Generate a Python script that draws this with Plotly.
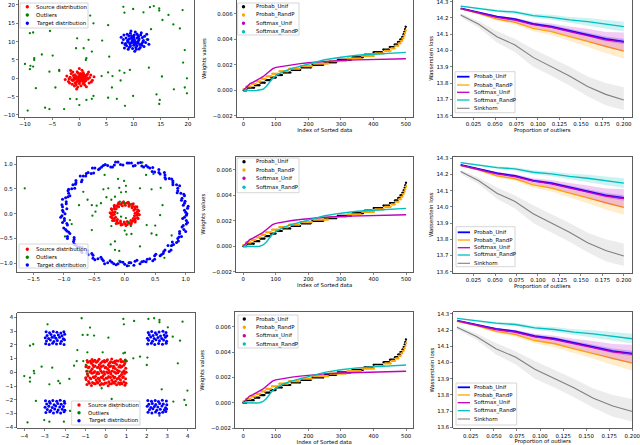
import plotly.graph_objects as go

W, H = 640, 445
FONT = "DejaVu Sans"
FS = 5.4

# ================= LEFT COLUMN: point clouds =================
gauss_source = [(-0.3,0.2),(0.5,-0.4),(1.1,0.8),(-1.2,-0.6),(0.2,1.3),(-0.8,1.0),(1.6,-0.2),(-1.7,0.3),(0.0,-1.4),(0.9,-1.1),
    (-0.5,-1.0),(0.4,0.6),(-0.1,-0.3),(1.3,0.3),(-1.0,0.1),(0.7,1.6),(-0.4,1.8),(2.1,0.9),(-2.0,-0.9),(0.3,-2.0),
    (-1.3,-1.6),(1.8,-1.3),(-0.7,0.6),(0.1,0.9),(0.8,0.1),(-0.2,-0.7),(1.5,1.2),(-1.5,1.3),(0.6,-0.8),(-0.9,-0.3),
    (0.0,0.4),(-0.6,-1.7),(1.0,-1.8),(2.4,-0.5),(-2.3,0.6),(0.5,2.2),(-0.3,-2.4),(1.9,0.2),(-1.9,-0.1),(0.2,-0.1),
    (-0.4,0.0),(0.6,0.4),(0.3,1.1),(-1.1,0.8),(1.2,-0.6),(-0.8,-1.2),(0.9,0.7),(-0.2,1.4),(0.7,-1.4),(-1.4,-0.4),
    (1.4,0.9),(0.1,-0.9),(-0.6,0.3),(0.4,-0.2),(-0.1,0.6),(1.1,-0.2),(-1.2,1.7),(1.7,1.7),(-1.8,-1.3),(2.2,-1.0),
    (0.0,2.7),(-0.5,-2.9),(2.7,0.4),(-2.6,-0.3),(0.8,1.2),(-0.9,-2.1),(1.3,-2.3),(-1.6,2.1),(0.3,0.0),(-0.3,-0.5),
    (0.5,0.9),(-0.7,-0.1),(0.9,-0.4),(-0.2,0.3),(0.1,-0.5)]
gauss_target = [(10.2,10.1),(9.5,9.6),(11.0,10.7),(8.9,10.4),(10.6,8.9),(9.7,11.2),(11.5,9.5),(8.4,9.2),(10.1,11.8),(9.2,8.5),
    (10.9,11.4),(8.6,11.0),(11.8,10.3),(10.4,9.3),(9.9,10.5),(9.0,9.9),(10.7,10.0),(11.3,11.9),(8.1,10.6),(12.2,9.8),
    (9.4,12.3),(10.5,7.9),(11.9,8.7),(8.3,8.3),(10.0,9.0),(9.6,10.9),(10.8,9.7),(9.1,11.6),(11.2,8.4),(10.3,12.6),
    (7.9,9.7),(12.6,10.6),(9.8,8.1),(11.6,11.1),(8.8,12.0),(10.1,10.6),(9.3,9.4),(10.6,11.0),(9.9,9.8),(11.1,9.2),
    (8.7,8.9),(10.4,8.4),(12.0,11.5),(9.0,7.9),(11.4,12.4),(7.7,11.2),(12.8,9.3),(10.2,7.4),(9.5,12.9),(10.9,10.3),
    (9.7,10.2),(10.3,9.6),(8.5,9.5),(11.7,10.0),(9.6,11.6),(10.6,12.1),(9.2,10.8),(11.0,8.0),(8.2,11.8),(12.4,12.0),
    (10.0,11.3),(10.8,11.7),(9.4,8.8),(11.5,9.0),(8.9,10.0)]
gauss_outliers = [(8.1,19.5),(9.9,18.9),(11.8,18.0),(13.0,19.4),(13.7,19.7),(14.7,19.1),(14.7,18.5),(19.0,18.6),(16.4,17.3),(8.3,17.9),
    (2.0,17.1),(15.3,15.9),(5.3,14.5),(17.3,14.7),(18.5,13.6),(13.2,13.4),(-9.1,12.3),(-8.5,12.5),(-5.4,12.9),(2.6,15.0),
    (-0.4,10.9),(1.7,10.5),(4.2,10.3),(12.4,10.6),(19.4,7.7),(-6.9,6.5),(-8.3,5.5),(-8.3,5.0),(-4.9,6.2),(-0.6,8.2),
    (0.8,8.2),(2.3,7.3),(1.3,5.5),(1.2,5.0),(5.5,5.9),(-10.0,3.9),(-9.0,3.4),(-9.1,2.5),(-8.5,3.2),(-3.7,2.3),
    (-3.7,2.0),(-5.5,1.8),(9.3,2.3),(7.4,2.1),(5.3,1.6),(8.3,1.5),(19.1,4.3),(12.8,2.9),(15.2,0.5),(19.8,0.0),
    (4.1,0.6),(6.1,0.6),(7.6,-0.6),(-8.0,-2.7),(-4.4,-2.5),(6.0,-2.5),(17.4,-3.0),(19.4,-2.5),(19.8,-4.1),(14.2,-4.4),
    (9.9,-4.8),(2.6,-4.8),(-1.7,-5.6),(-0.5,-5.7),(1.3,-5.9),(2.3,-5.6),(5.3,-5.3),(6.9,-5.6),(14.8,-5.9),(14.7,-7.0),
    (8.4,-7.5),(0.0,-7.3),(-6.3,-8.0),(-5.5,-8.4),(-2.8,-8.4),(-9.5,-8.8)]

circle_source = [(0.22,0.00),(0.20,0.03),(0.21,0.08),(0.17,0.10),(0.17,0.14),(0.13,0.15),(0.11,0.19),(0.07,0.19),(0.04,0.22),(0.00,0.20),
    (-0.04,0.22),(-0.07,0.19),(-0.11,0.19),(-0.13,0.15),(-0.17,0.14),(-0.17,0.10),(-0.21,0.08),(-0.20,0.03),(-0.22,0.00),(-0.20,-0.03),
    (-0.21,-0.08),(-0.17,-0.10),(-0.17,-0.14),(-0.13,-0.15),(-0.11,-0.19),(-0.07,-0.19),(-0.04,-0.22),(0.00,-0.20),(0.04,-0.22),(0.07,-0.19),
    (0.11,-0.19),(0.13,-0.15),(0.17,-0.14),(0.17,-0.10),(0.21,-0.08),(0.20,-0.03),
    (0.17,0.01),(0.23,0.06),(0.15,0.07),(0.20,0.14),(0.12,0.12),(0.14,0.20),(0.07,0.15),(0.06,0.23),(0.01,0.17),(-0.02,0.24),
    (-0.04,0.16),(-0.10,0.22),(-0.10,0.14),(-0.17,0.17),(-0.14,0.10),(-0.22,0.10),(-0.16,0.04),(-0.24,0.02),(-0.17,-0.01),(-0.23,-0.06),
    (-0.15,-0.07),(-0.20,-0.14),(-0.12,-0.12),(-0.14,-0.20),(-0.07,-0.15),(-0.06,-0.23),(-0.01,-0.17),(0.02,-0.24),(0.04,-0.16),(0.10,-0.22),
    (0.10,-0.14),(0.17,-0.17),(0.14,-0.10),(0.22,-0.10),(0.16,-0.04),(0.24,-0.02)]
circle_target = [(1.02,0.00),(0.98,0.07),(1.04,0.15),(0.98,0.21),(0.93,0.27),(0.98,0.36),(0.92,0.41),(0.87,0.46),(0.90,0.56),(0.79,0.58),
    (0.79,0.66),(0.73,0.71),(0.66,0.73),(0.65,0.83),(0.56,0.83),(0.49,0.84),(0.46,0.93),(0.38,0.94),(0.31,0.94),(0.26,1.03),
    (0.17,0.97),(0.11,1.02),(0.04,1.02),
    (-0.03,0.98),(-0.11,1.04),(-0.17,0.98),(-0.23,0.94),(-0.32,0.99),(-0.38,0.94),(-0.43,0.89),(-0.53,0.92),(-0.55,0.81),(-0.63,0.81),
    (-0.68,0.76),(-0.70,0.68),(-0.80,0.67),(-0.81,0.59),(-0.82,0.51),(-0.92,0.49),(-0.92,0.41),(-0.93,0.34),(-1.02,0.29),(-0.96,0.20),
    (-1.02,0.14),(-1.02,0.07),(-0.98,0.00),
    (-1.05,-0.07),(-0.99,-0.14),(-0.95,-0.20),(-1.00,-0.29),(-0.95,-0.35),(-0.90,-0.40),(-0.94,-0.50),(-0.83,-0.52),(-0.83,-0.61),
    (-0.78,-0.66),(-0.70,-0.68),(-0.70,-0.78),(-0.62,-0.79),(-0.54,-0.80),(-0.52,-0.90),(-0.44,-0.91),(-0.37,-0.92),(-0.33,-1.01),
    (-0.24,-0.95),(-0.18,-1.01),(-0.11,-1.01),(-0.03,-0.98),
    (0.04,-1.05),(0.10,-0.99),(0.17,-0.96),(0.25,-1.01),(0.31,-0.96),(0.37,-0.92),(0.46,-0.95),(0.49,-0.85),(0.58,-0.85),
    (0.63,-0.80),(0.66,-0.73),(0.76,-0.73),(0.77,-0.64),(0.78,-0.57),(0.88,-0.55),(0.89,-0.47),(0.90,-0.40),(1.00,-0.36),
    (0.94,-0.27),(1.01,-0.21),(1.01,-0.14),(0.98,-0.07),
    (1.00,0.03),(1.03,0.11),(0.96,0.17),(0.99,0.25),(0.94,0.31),(0.97,0.39),(0.86,0.42),(0.87,0.51),(0.85,0.58),(0.79,0.62),
    (0.77,0.70),(0.67,0.70),(0.66,0.78),(0.58,0.80),(0.56,0.89),(0.45,0.85),(0.41,0.92),(0.35,0.97),(0.28,0.96),(0.22,1.02),
    (0.14,0.96),(0.07,1.02),
    (-0.07,0.99),(-0.15,1.04),(-0.20,0.94),(-0.28,0.97),(-0.35,0.97),(-0.41,0.91),(-0.49,0.92),(-0.51,0.82),(-0.60,0.83),(-0.64,0.76),
    (-0.73,0.76),(-0.71,0.64),(-0.80,0.62),(-0.85,0.58),(-0.87,0.50),(-0.93,0.46),(-0.90,0.36),(-0.97,0.32),(-0.96,0.24),(-1.03,0.18),
    (-0.95,0.10),(-1.01,0.04),
    (-1.03,-0.04),(-0.99,-0.10),(-1.02,-0.18),(-0.94,-0.23),(-0.97,-0.32),(-0.92,-0.37),(-0.94,-0.46),(-0.83,-0.48),(-0.84,-0.56),
    (-0.81,-0.63),(-0.74,-0.67),(-0.72,-0.75),(-0.62,-0.74),(-0.60,-0.83),(-0.52,-0.84),(-0.49,-0.93),(-0.39,-0.88),(-0.35,-0.95),
    (-0.28,-0.99),(-0.21,-0.98),(-0.14,-1.03),(-0.07,-0.97),
    (0.00,-1.02),(0.07,-0.99),(0.15,-1.04),(0.20,-0.94),(0.28,-0.97),(0.35,-0.97),(0.41,-0.91),(0.49,-0.92),(0.51,-0.82),(0.60,-0.83),
    (0.64,-0.76),(0.73,-0.76),(0.71,-0.64),(0.80,-0.62),(0.85,-0.58),(0.87,-0.50),(0.93,-0.46),(0.90,-0.36),(0.97,-0.32),(0.96,-0.24),
    (1.03,-0.18),(0.95,-0.10),(1.01,-0.03)]
circle_outliers = [(-1.64,0.51),(0.29,1.03),(0.35,0.78),(0.47,0.80),(-0.33,0.78),(-0.11,0.70),(-0.01,0.66),(0.02,0.56),(-0.68,0.44),(-0.35,0.49),
    (-0.27,0.51),(-0.09,0.52),(0.02,0.44),(0.25,0.51),(0.44,0.49),(0.59,0.52),(-0.30,0.33),(-0.16,0.34),(-0.61,0.28),(-0.75,0.17),
    (-0.54,0.17),(-0.46,0.16),(-0.39,0.21),(-0.08,0.24),(0.00,0.21),(0.08,0.17),(0.62,0.17),(-0.48,0.04),(-0.53,-0.04),(-0.90,-0.13),
    (-0.87,-0.21),(-0.12,0.01),(-0.06,-0.06),(0.02,-0.09),(0.06,-0.17),(-0.22,-0.25),(0.10,-0.25),(0.36,-0.23),(0.50,-0.24),(0.58,-0.03),
    (-0.54,-0.33),(0.00,-0.34),(0.11,-0.41),(0.03,-0.42),(0.44,-0.40),(0.52,-0.43),(0.77,-0.44),(-0.98,-0.46),(-0.16,-0.56),(-0.23,-0.62),
    (-0.16,-0.73),(-0.09,-0.75),(0.25,-0.66),(0.76,-0.65),(0.65,-0.89),(-0.09,-0.95),(0.07,-1.05),(0.08,-0.98),(-0.06,0.43),(-0.22,0.28)]

square_source_x = [-0.93,-0.71,-0.52,-0.28,-0.12,0.11,0.27,0.52,0.68,0.93,
    -0.85,-0.66,-0.44,-0.31,-0.05,0.14,0.35,0.47,0.74,0.88,
    -0.97,-0.74,-0.48,-0.33,-0.09,0.06,0.29,0.55,0.71,0.96,
    -0.88,-0.62,-0.51,-0.24,-0.14,0.13,0.33,0.44,0.67,0.85,
    -0.91,-0.69,-0.45,-0.35,-0.07,0.09,0.24,0.49,0.76,0.91,
    -0.94,-0.73,-0.55,-0.26,-0.11,0.15,0.31,0.56,0.65,0.89,
    -0.86,-0.67,-0.42,-0.29,-0.04,0.08,0.36,0.46,0.73,0.97,
    -0.96,-0.64,-0.53,-0.32,-0.13,0.12,0.26,0.53,0.69,0.87,
    -0.89,-0.72,-0.47,-0.25,-0.06,0.17,0.34,0.45,0.75,0.92,
    -0.92,-0.68,-0.54,-0.34,-0.08,0.07,0.28,0.51,0.72,0.95,
    -0.81,-0.58,-0.39,-0.21,0.02,0.19,0.41,0.62,0.79,0.98,
    -0.78,-0.57,-0.38,-0.18,0.01,0.22,0.39,0.61,0.82,-0.99,
    -0.79,-0.61,-0.41,-0.19,0.03,0.21,0.42,0.58,0.81,0.99,
    -0.82,-0.59,-0.37,-0.22,-0.01,0.18,0.38,0.63,0.78,-0.98,
    -0.77,-0.62,-0.40,-0.17,0.04,0.23,0.43,0.60,0.83,0.97]
square_source_y = [-0.88,-0.95,-0.84,-0.92,-0.86,-0.97,-0.83,-0.91,-0.87,-0.94,
    -0.66,-0.74,-0.71,-0.63,-0.77,-0.68,-0.72,-0.65,-0.75,-0.69,
    -0.52,-0.46,-0.55,-0.48,-0.53,-0.44,-0.57,-0.49,-0.54,-0.47,
    -0.27,-0.34,-0.29,-0.36,-0.25,-0.31,-0.26,-0.35,-0.28,-0.33,
    -0.13,-0.06,-0.11,-0.08,-0.14,-0.05,-0.12,-0.07,-0.15,-0.09,
    0.08,0.14,0.06,0.12,0.05,0.13,0.09,0.15,0.07,0.11,
    0.33,0.26,0.35,0.28,0.34,0.25,0.32,0.27,0.36,0.29,
    0.47,0.54,0.45,0.55,0.48,0.53,0.46,0.56,0.49,0.52,
    0.73,0.66,0.74,0.67,0.75,0.65,0.72,0.68,0.76,0.64,
    0.86,0.94,0.88,0.95,0.85,0.92,0.97,0.84,0.93,0.89,
    -0.79,-0.82,-0.77,-0.81,-0.78,-0.84,-0.80,-0.76,-0.83,-0.79,
    -0.41,-0.38,-0.43,-0.39,-0.42,-0.37,-0.41,-0.44,-0.38,-0.40,
    0.02,-0.03,0.01,-0.02,0.03,-0.01,0.02,-0.03,0.00,0.01,
    0.38,0.42,0.39,0.43,0.37,0.41,0.44,0.38,0.42,0.40,
    0.81,0.78,0.82,0.79,0.83,0.77,0.80,0.82,0.78,0.81]
square_target_x = [-2.95,-2.78,-2.61,-2.42,-2.23,-2.05,-2.91,-2.72,-2.55,-2.38,-2.18,-2.03,-2.97,-2.81,-2.64,-2.45,-2.27,-2.09,
    -2.88,-2.69,-2.52,-2.33,-2.15,-2.02,-2.93,-2.76,-2.58,-2.40,-2.21,-2.06,
    2.04,2.22,2.39,2.58,2.77,2.95,2.09,2.28,2.45,2.62,2.82,2.97,2.03,2.19,2.36,2.55,2.73,2.91,
    2.12,2.31,2.48,2.67,2.85,2.98,2.07,2.24,2.42,2.60,2.79,2.94,
    -2.96,-2.77,-2.60,-2.41,-2.24,-2.04,-2.90,-2.73,-2.54,-2.36,-2.19,-2.02,-2.98,-2.80,-2.63,-2.46,-2.26,-2.08,
    -2.87,-2.70,-2.51,-2.34,-2.14,-2.01,-2.94,-2.75,-2.57,-2.39,-2.22,-2.05,
    2.05,2.23,2.41,2.57,2.76,2.96,2.10,2.27,2.44,2.63,2.81,2.98,2.02,2.20,2.37,2.54,2.74,2.92,
    2.13,2.30,2.49,2.66,2.86,2.97,2.06,2.25,2.43,2.61,2.78,2.93]
square_target_y = [2.08,2.03,2.12,2.05,2.10,2.02,2.28,2.35,2.24,2.31,2.26,2.37,2.52,2.46,2.55,2.48,2.54,2.44,
    2.68,2.74,2.65,2.72,2.66,2.76,2.94,2.88,2.97,2.91,2.86,2.95,
    2.05,2.11,2.03,2.09,2.04,2.12,2.33,2.26,2.36,2.29,2.34,2.25,2.47,2.56,2.45,2.53,2.46,2.55,
    2.73,2.67,2.75,2.64,2.71,2.66,2.89,2.96,2.87,2.93,2.98,2.90,
    -2.06,-2.12,-2.04,-2.10,-2.03,-2.11,-2.30,-2.25,-2.35,-2.27,-2.33,-2.24,-2.54,-2.47,-2.56,-2.45,-2.52,-2.48,
    -2.71,-2.77,-2.66,-2.74,-2.68,-2.75,-2.92,-2.87,-2.96,-2.89,-2.95,-2.86,
    -2.04,-2.10,-2.05,-2.12,-2.03,-2.09,-2.32,-2.27,-2.34,-2.26,-2.31,-2.36,-2.46,-2.55,-2.48,-2.53,-2.45,-2.57,
    -2.72,-2.65,-2.76,-2.68,-2.73,-2.67,-2.90,-2.95,-2.88,-2.97,-2.91,-2.85]
square_outliers = [(-1.19,3.93),(0.85,3.88),(0.88,3.49),(1.38,3.73),(2.08,3.88),(2.36,3.93),(2.62,3.81),(2.62,3.64),(3.75,3.68),(-2.86,3.49),
    (-0.78,3.25),(-1.14,2.72),(-0.90,2.72),(-0.58,2.67),(0.12,2.52),(3.03,3.27),(3.27,2.59),(3.63,2.30),(-3.72,1.94),(-3.56,2.04),
    (-1.40,1.62),(-0.91,1.45),(-0.16,1.45),(0.85,1.38),(0.93,1.43),(1.67,1.14),(2.03,1.07),(1.34,1.02),(-1.43,0.82),(-1.56,0.48),
    (-1.11,0.82),(-0.98,0.53),(2.00,0.53),(3.52,0.65),(-3.15,0.41),(-3.53,0.10),(-3.51,-0.07),(-2.63,0.34),(-4.00,-0.27),(-3.72,-0.39),
    (-3.72,-0.68),(-2.33,-0.63),(-2.25,-0.80),(-2.77,-0.87),(-1.79,-0.48),(-0.21,-1.16),(2.73,-1.24),(3.99,-1.33),(-3.43,-2.08),(3.30,-2.13),
    (3.84,-2.01),(3.92,-2.38),(0.28,-1.94),(-1.76,-2.81),(0.36,-2.38),(2.62,-3.15),(-3.02,-3.47),(-2.77,-3.59),(-2.06,-3.59),(-3.84,-3.64),
    (-2.55,2.52),(0.93,0.90),(1.02,0.82),(-0.91,-0.12),(-0.91,0.10),(0.53,-2.62)]

cloud_names = ["Source distribution", "Outliers", "Target distribution"]
cloud_colors = ["#ff0000", "#008000", "#0000ff"]

# ================= MIDDLE COLUMN: sorted weights =================
sorted_index = [0, 10, 20, 30, 40, 50, 60, 70, 80, 90, 100, 125, 150, 175, 200, 250, 300, 350, 400, 450, 500]
softmax_unif_w = [0.0, 0.0003, 0.00052, 0.00064, 0.00078, 0.0009, 0.00107, 0.00128, 0.0015, 0.0017, 0.0018,
                  0.00192, 0.00202, 0.0021, 0.00217, 0.00228, 0.00235, 0.00239, 0.00242, 0.00245, 0.00248]
softmax_randp_w = [0.0, -0.00002, -0.00003, -0.00003, -0.00002, 0.0, 0.00008, 0.0003, 0.00065, 0.00095, 0.00115,
                   0.0015, 0.00172, 0.0019, 0.00208, 0.0024, 0.0026, 0.00275, 0.00283, 0.0029, 0.00298]
probab_unif_level = [0.0, 0.0002, 0.0004, 0.0006, 0.0008, 0.0010, 0.0012, 0.0014, 0.0016, 0.0018, 0.0020, 0.0022, 0.0024,
                     0.0026, 0.0028, 0.0030, 0.0032, 0.0034, 0.0036, 0.0038, 0.0040, 0.0042, 0.0044, 0.0046, 0.0048, 0.0050]
probab_unif_from = [0, 12, 35, 52, 68, 84, 102, 122, 148, 178, 212, 250, 290, 335, 372, 400, 430, 450, 465, 475, 482, 488, 492, 495, 497, 499]
probab_unif_to = [10, 33, 50, 66, 82, 100, 119, 145, 175, 208, 246, 286, 331, 368, 397, 427, 448, 463, 474, 481, 487, 491, 494, 496, 498, 500]
probab_randp_level = [0.0001, 0.0003, 0.0005, 0.0007, 0.0009, 0.0011, 0.0013, 0.0015, 0.0017, 0.0019, 0.0021, 0.0023,
                      0.0025, 0.0027, 0.0029, 0.0031, 0.0033, 0.0035, 0.0037, 0.0039, 0.0041, 0.0043, 0.0045, 0.0047]
probab_randp_from = [0, 8, 25, 40, 55, 70, 88, 110, 140, 175, 215, 265, 320, 365, 405, 435, 455, 468, 478, 485, 490, 494, 497, 499]
probab_randp_to = [6, 23, 38, 53, 68, 86, 107, 137, 172, 211, 261, 316, 361, 402, 432, 453, 466, 477, 484, 489, 493, 496, 498, 500]

weight_names = ["Probab_Unif", "Probab_RandP", "Softmax_Unif", "Softmax_RandP"]
weight_colors = ["#000000", "#ffa500", "#bf00bf", "#00bfbf"]

# ================= RIGHT COLUMN: Wasserstein loss =================
outlier_prop = [0.01, 0.0311, 0.0522, 0.0733, 0.0944, 0.1156, 0.1367, 0.1578, 0.1789, 0.2]
probab_unif_loss = [14.259, 14.235, 14.208, 14.192, 14.163, 14.147, 14.122, 14.100, 14.071, 14.055]
probab_randp_loss = [14.255, 14.228, 14.192, 14.173, 14.136, 14.116, 14.085, 14.055, 14.024, 13.997]
softmax_unif_loss = [14.257, 14.232, 14.204, 14.187, 14.159, 14.142, 14.117, 14.095, 14.066, 14.052]
softmax_randp_loss = [14.273, 14.259, 14.243, 14.235, 14.214, 14.204, 14.188, 14.177, 14.161, 14.147]
sinkhorn_loss = [14.218, 14.161, 14.085, 14.034, 13.958, 13.901, 13.844, 13.779, 13.731, 13.697]
probab_unif_sd = [0.003, 0.004, 0.005, 0.006, 0.008, 0.009, 0.011, 0.013, 0.015, 0.017]
probab_randp_sd = [0.004, 0.007, 0.010, 0.013, 0.017, 0.021, 0.026, 0.032, 0.040, 0.046]
softmax_unif_sd = [0.004, 0.007, 0.010, 0.014, 0.018, 0.024, 0.030, 0.038, 0.048, 0.058]
softmax_randp_sd = [0.004, 0.006, 0.008, 0.010, 0.012, 0.015, 0.018, 0.022, 0.026, 0.030]
sinkhorn_upper = [14.228, 14.180, 14.120, 14.070, 14.010, 13.955, 13.900, 13.840, 13.800, 13.775]
sinkhorn_lower = [14.205, 14.140, 14.050, 13.990, 13.900, 13.845, 13.785, 13.720, 13.665, 13.635]

loss_names = ["Probab_Unif", "Probab_RandP", "Softmax_Unif", "Softmax_RandP", "Sinkhorn"]
loss_colors = ["#0000ff", "#ffa500", "#bf00bf", "#00bfbf", "#808080"]
loss_widths = [1.8, 1.3, 1.3, 1.3, 1.1]

# ================= helpers =================
def px_x(p):
    return p / W

def px_y(p):
    return 1 - p / H

def split(pairs):
    return [p[0] for p in pairs], [p[1] for p in pairs]

def rgba(hexc, a):
    h = hexc.lstrip("#")
    return "rgba(%d,%d,%d,%.3f)" % (int(h[0:2], 16), int(h[2:4], 16), int(h[4:6], 16), a)

def steps(levels, starts, ends):
    xs, ys = [], []
    for l, s, e in zip(levels, starts, ends):
        xs += [s, e, None]
        ys += [l, l, None]
    return xs, ys

fig = go.Figure()

def ax(k):
    return ("x" if k == 1 else "x%d" % k), ("y" if k == 1 else "y%d" % k)

# ---- cloud panels ----
def cloud_panel(k, source, outliers, target):
    xa, ya = ax(k)
    sets = [source, outliers, target]
    sizes = [3.0, 2.3, 3.0]
    for (xs, ys), name, col, sz in zip(sets, cloud_names, cloud_colors, sizes):
        fig.add_trace(go.Scatter(x=xs, y=ys, mode="markers", name=name, xaxis=xa, yaxis=ya,
                                 marker=dict(color=col, size=sz, line=dict(width=0)), showlegend=False))

sq_src = (square_source_x, square_source_y)
sq_tgt = (square_target_x, square_target_y)
cloud_panel(1, split(gauss_source), split(gauss_outliers), split(gauss_target))
cloud_panel(4, split(circle_source), split(circle_outliers), split(circle_target))
cloud_panel(7, sq_src, split(square_outliers), sq_tgt)

# ---- weight panels ----
def weight_panel(k):
    xa, ya = ax(k)
    bx, by = steps(probab_unif_level, probab_unif_from, probab_unif_to)
    ox, oy = steps(probab_randp_level, probab_randp_from, probab_randp_to)
    fig.add_trace(go.Scatter(x=bx, y=by, mode="lines+markers", xaxis=xa, yaxis=ya, showlegend=False,
                             line=dict(color=weight_colors[0], width=2.2), marker=dict(color=weight_colors[0], size=2)))
    fig.add_trace(go.Scatter(x=ox, y=oy, mode="lines+markers", xaxis=xa, yaxis=ya, showlegend=False,
                             line=dict(color=weight_colors[1], width=2.2), marker=dict(color=weight_colors[1], size=2)))
    fig.add_trace(go.Scatter(x=sorted_index, y=softmax_unif_w, mode="lines", xaxis=xa, yaxis=ya, showlegend=False,
                             line=dict(color=weight_colors[2], width=1.4)))
    fig.add_trace(go.Scatter(x=sorted_index, y=softmax_randp_w, mode="lines", xaxis=xa, yaxis=ya, showlegend=False,
                             line=dict(color=weight_colors[3], width=1.4)))

for k in (2, 5, 8):
    weight_panel(k)

# ---- loss panels ----
means = [probab_unif_loss, probab_randp_loss, softmax_unif_loss, softmax_randp_loss, sinkhorn_loss]
uppers = [[m + s for m, s in zip(probab_unif_loss, probab_unif_sd)],
          [m + s for m, s in zip(probab_randp_loss, probab_randp_sd)],
          [m + s for m, s in zip(softmax_unif_loss, softmax_unif_sd)],
          [m + s for m, s in zip(softmax_randp_loss, softmax_randp_sd)],
          sinkhorn_upper]
lowers = [[m - s for m, s in zip(probab_unif_loss, probab_unif_sd)],
          [m - s for m, s in zip(probab_randp_loss, probab_randp_sd)],
          [m - s for m, s in zip(softmax_unif_loss, softmax_unif_sd)],
          [m - s for m, s in zip(softmax_randp_loss, softmax_randp_sd)],
          sinkhorn_lower]

def loss_panel(k):
    xa, ya = ax(k)
    for m, up, lo, col, w in zip(means, uppers, lowers, loss_colors, loss_widths):
        alpha = 0.15 if col == "#808080" else 0.2
        fig.add_trace(go.Scatter(x=outlier_prop + outlier_prop[::-1], y=up + lo[::-1], fill="toself",
                                 fillcolor=rgba(col, alpha), line=dict(width=0), mode="lines",
                                 xaxis=xa, yaxis=ya, showlegend=False, hoverinfo="skip"))
        fig.add_trace(go.Scatter(x=outlier_prop, y=m, mode="lines", line=dict(color=col, width=w),
                                 xaxis=xa, yaxis=ya, showlegend=False))

for k in (3, 6, 9):
    loss_panel(k)

# ---- axes ----
panels = {
    1: dict(l=19, r=194, t=0, b=117, xr=[-11.1, 21.1], yr=[-10.55, 21.36],
            xt=[-10, -5, 0, 5, 10, 15, 20], yt=[-10, -5, 0, 5, 10, 15, 20], xf="d", yf="d"),
    2: dict(l=236.7, r=413, t=0, b=117, xr=[-21, 522], yr=[-0.0021, 0.0071],
            xt=[0, 100, 200, 300, 400, 500], yt=[-0.002, 0, 0.002, 0.004, 0.006], xf="d", yf=".3f"),
    3: dict(l=452.5, r=632, t=0, b=116.7, xr=[0.0005, 0.2095], yr=[13.594, 14.31],
            xt=[0.025, 0.05, 0.075, 0.1, 0.125, 0.15, 0.175, 0.2], yt=[13.6, 13.7, 13.8, 13.9, 14.0, 14.1, 14.2, 14.3], xf=".3f", yf=".1f"),
    4: dict(l=16.7, r=194.3, t=156.7, b=271.7, xr=[-1.772, 1.141], yr=[-1.169, 1.147],
            xt=[-1.5, -1.0, -0.5, 0, 0.5, 1.0], yt=[-1.0, -0.5, 0, 0.5, 1.0], xf=".1f", yf=".1f"),
    5: dict(l=236, r=413.3, t=156.7, b=271.7, xr=[-22, 522], yr=[-0.002, 0.00704],
            xt=[0, 100, 200, 300, 400, 500], yt=[-0.002, 0, 0.002, 0.004, 0.006], xf="d", yf=".3f"),
    6: dict(l=452.5, r=632, t=156.7, b=272.7, xr=[0.0005, 0.2095], yr=[13.594, 14.31],
            xt=[0.025, 0.05, 0.075, 0.1, 0.125, 0.15, 0.175, 0.2], yt=[13.6, 13.7, 13.8, 13.9, 14.0, 14.1, 14.2, 14.3], xf=".3f", yf=".1f"),
    7: dict(l=17.3, r=195, t=313.3, b=428.3, xr=[-4.34, 4.36], yr=[-4.07, 4.29],
            xt=[-4, -3, -2, -1, 0, 1, 2, 3, 4], yt=[-4, -3, -2, -1, 0, 1, 2, 3, 4], xf="d", yf="d"),
    8: dict(l=235, r=413.3, t=312.3, b=428.3, xr=[-25, 522], yr=[-0.00202, 0.00714],
            xt=[0, 100, 200, 300, 400, 500], yt=[-0.002, 0, 0.002, 0.004, 0.006], xf="d", yf=".3f"),
    9: dict(l=453.3, r=632.3, t=311.7, b=428.4, xr=[0.006, 0.2], yr=[13.593, 14.314],
            xt=[0.025, 0.05, 0.075, 0.1, 0.125, 0.15, 0.175, 0.2], yt=[13.6, 13.7, 13.8, 13.9, 14.0, 14.1, 14.2, 14.3], xf=".3f", yf=".1f"),
}
titles = {2: ("Index of Sorted data", "Weights values"), 5: ("Index of Sorted data", "Weights values"),
          8: ("Index of Sorted data", "Weights values"), 3: ("Proportion of outliers", "Wasserstein loss"),
          6: ("Proportion of outliers", "Wasserstein loss"), 9: ("Proportion of outliers", "Wasserstein loss")}

layout = {}
common = dict(showline=True, mirror=True, linecolor="#333333", linewidth=0.8, ticks="outside", ticklen=2.2,
              tickwidth=0.6, tickcolor="#333333", showgrid=False, zeroline=False, automargin=False,
              ticklabeloverflow="allow", tickfont=dict(family=FONT, size=FS, color="black"))
for k, p in panels.items():
    xname = "xaxis" if k == 1 else "xaxis%d" % k
    yname = "yaxis" if k == 1 else "yaxis%d" % k
    xa, ya = ax(k)
    xd = dict(common, domain=[px_x(p["l"]), px_x(p["r"])], range=p["xr"], anchor=ya, tickvals=p["xt"],
              tickformat=p["xf"])
    yd = dict(common, domain=[px_y(p["b"]), px_y(p["t"])], range=p["yr"], anchor=xa, tickvals=p["yt"],
              tickformat=p["yf"])
    if k in titles:
        xd["title"] = dict(text=titles[k][0], font=dict(family=FONT, size=FS, color="black"), standoff=1)
        yd["title"] = dict(text=titles[k][1], font=dict(family=FONT, size=FS, color="black"),
                           standoff=5 if k in (2, 5, 8) else 2)
    layout[xname] = xd
    layout[yname] = yd

# ---- legends (drawn as boxes, symbols and text) ----
shapes = []
annotations = []

def legend(box, rows, names, colors, kind, sym, text_x, widths=None):
    l, t, r, b = box
    shapes.append(dict(type="rect", xref="paper", yref="paper", x0=px_x(l), x1=px_x(r), y0=px_y(b), y1=px_y(t),
                       fillcolor="rgba(255,255,255,0.8)", line=dict(color="#cccccc", width=0.8), layer="above"))
    for i, (yy, name, col) in enumerate(zip(rows, names, colors)):
        if kind == "marker":
            rad = 1.7
            shapes.append(dict(type="circle", xref="paper", yref="paper", x0=px_x(sym - rad), x1=px_x(sym + rad),
                               y0=px_y(yy + rad), y1=px_y(yy - rad), fillcolor=col, line=dict(width=0), layer="above"))
        else:
            w = widths[i] if widths else 1.3
            shapes.append(dict(type="line", xref="paper", yref="paper", x0=px_x(sym[0]), x1=px_x(sym[1]),
                               y0=px_y(yy), y1=px_y(yy), line=dict(color=col, width=w), layer="above"))
        annotations.append(dict(text=name, xref="paper", yref="paper", x=px_x(text_x), y=px_y(yy),
                                xanchor="left", yanchor="middle", showarrow=False, borderpad=0,
                                font=dict(family=FONT, size=FS, color="black")))

legend((20, 3, 88, 28), [6.7, 15, 23.3], cloud_names, cloud_colors, "marker", 27.3, 35)
legend((19, 244, 88, 268), [249.3, 257.3, 265], cloud_names, cloud_colors, "marker", 27.3, 35)
legend((71.7, 401, 140, 425), [405, 412.7, 420.7], cloud_names, cloud_colors, "marker", 79, 86.5)
legend((237.7, 3, 299, 35), [6.7, 15, 23.3, 31.7], weight_names, weight_colors, "marker", 243.5, 254.5)
legend((237, 158, 299, 192.7), [161.7, 170, 178.3, 187.3], weight_names, weight_colors, "marker", 244, 254.5)
legend((238, 315, 298, 348), [319, 327.3, 335.7, 344], weight_names, weight_colors, "marker", 244.3, 254.5)
legend((455, 71.7, 515, 112.7), [76.7, 85, 92.3, 100, 108.3], loss_names, loss_colors, "line", (457, 469.5), 472.5, loss_widths)
legend((456, 226.7, 515, 266.7), [232.3, 240, 247.7, 255, 263.3], loss_names, loss_colors, "line", (457.7, 470), 472.5, loss_widths)
legend((456, 383, 516.7, 425), [387.3, 395, 402.7, 410.7, 419], loss_names, loss_colors, "line", (457.7, 470), 472.5, loss_widths)

fig.update_layout(width=W, height=H, margin=dict(l=0, r=0, t=0, b=0), paper_bgcolor="white",
                  plot_bgcolor="white", showlegend=False, font=dict(family=FONT, size=FS, color="black"),
                  shapes=shapes, annotations=annotations, **layout)

fig.write_html("out.html", config={"displayModeBar": False, "staticPlot": True},
               post_script="document.body.style.margin='0';document.body.style.padding='0';")
